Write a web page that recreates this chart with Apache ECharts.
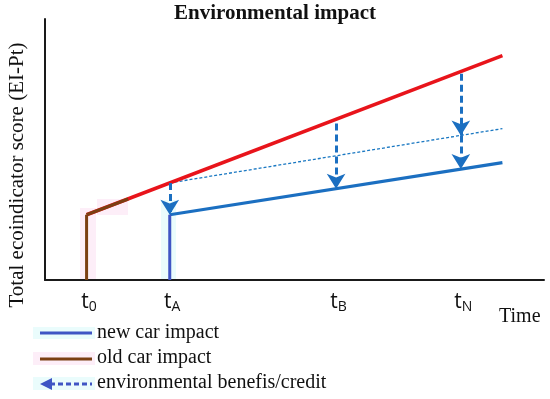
<!DOCTYPE html>
<html>
<head>
<meta charset="utf-8">
<script src="https://cdn.jsdelivr.net/npm/echarts@6/dist/echarts.min.js"></script>
<style>html,body{margin:0;padding:0;background:#fff}#c{width:550px;height:399px}</style>
</head>
<body>
<div id="c"></div>
<script>
// Time positions of the labelled ticks and their subscripts
var tickPositions = [1, 3, 7, 10];
var tickSubs = ['0', 'A', 'B', 'N'];
// Old car impact (t0 start, then rising)
var oldCarVertical = [[1, 0], [1, 2.5]];
var oldCarLine = [[1, 2.5], [2, 3.1]];
// Continued old car impact (red)
var oldCarTrend = [[1, 2.5], [11, 8.6]];
// Reference (thin dotted) line from tA
var dottedLine = [[3, 3.72], [11, 5.8]];
// New car impact
var newCarVertical = [[3, 0], [3, 2.5]];
var newCarLine = [[3, 2.5], [11, 4.5]];
// Environmental benefit arrows: [x, from, to]
var benefitArrows = [[3, 3.72, 2.5], [7, 6.0, 3.5], [10, 7.9, 5.54], [10, 5.54, 4.25]];

var serif = '"Liberation Serif","DejaVu Serif",serif';
var sans = '"Open Sans","Liberation Sans",sans-serif';

var chart = echarts.init(document.getElementById('c'), null, {renderer: 'canvas'});
var arrowData = benefitArrows.map(function (a) {
  return [{coord: [a[0], a[1]]}, {coord: [a[0], a[2]]}];
});
chart.setOption({
  animation: false,
  backgroundColor: '#fff',
  grid: {left: 45, right: 6, top: 19, bottom: 119},
  xAxis: {
    type: 'value', min: 0, max: 12,
    axisLine: {show: true, lineStyle: {color: '#1a1a1a', width: 2}},
    axisTick: {show: false},
    splitLine: {show: false},
    axisLabel: {
      customValues: tickPositions,
      margin: 11,
      formatter: function (v) {
        var i = tickPositions.indexOf(v);
        return '{t|t}{s|' + tickSubs[i] + '}';
      },
      rich: {
        t: {fontFamily: sans, fontSize: 21, color: '#111', padding: [0, 0, 0, 5]},
        s: {fontFamily: sans, fontSize: 14, color: '#111', verticalAlign: 'bottom', padding: [9, 0, 0, 0]}
      }
    }
  },
  yAxis: {
    type: 'value', min: 0, max: 10,
    axisLine: {show: true, lineStyle: {color: '#1a1a1a', width: 2}},
    axisTick: {show: false},
    axisLabel: {show: false},
    splitLine: {show: false}
  },
  graphic: [
    {type: 'rect', shape: {x: 80, y: 208, width: 16, height: 71}, style: {fill: '#fdeef8'}, z: -10},
    {type: 'rect', shape: {x: 97, y: 199, width: 31, height: 16}, style: {fill: '#fdeef8'}, z: -10},
    {type: 'rect', shape: {x: 161, y: 200, width: 15, height: 79}, style: {fill: '#eafcfc'}, z: -10},
    {type: 'text', left: 'center', top: 3, style: {text: 'Environmental impact', font: 'bold 21px ' + serif, fill: '#111'}},
    {type: 'text', x: 17, y: 175, rotation: Math.PI / 2, style: {text: 'Total ecoindicator score (EI-Pt)', font: '21px ' + serif, fill: '#111', align: 'center', verticalAlign: 'middle'}},
    {type: 'text', x: 499, y: 307, style: {text: 'Time', font: '20px ' + serif, fill: '#111'}},
    {type: 'rect', shape: {x: 33, y: 327, width: 62, height: 12}, style: {fill: '#eafcfc'}, z: -10},
    {type: 'rect', shape: {x: 33, y: 352, width: 62, height: 13}, style: {fill: '#fdeef8'}, z: -10},
    {type: 'rect', shape: {x: 33, y: 377, width: 62, height: 13}, style: {fill: '#eafcfc'}, z: -10},
    {type: 'line', shape: {x1: 40, y1: 333, x2: 92, y2: 333}, style: {stroke: '#3f55c4', lineWidth: 3}},
    {type: 'line', shape: {x1: 40, y1: 359, x2: 92, y2: 359}, style: {stroke: '#7b3f12', lineWidth: 3}},
    {type: 'line', shape: {x1: 50, y1: 384, x2: 92, y2: 384}, style: {stroke: '#3f55c4', lineWidth: 3, lineDash: [5, 3]}},
    {type: 'polygon', shape: {points: [[40, 384], [52, 378], [52, 390]]}, style: {fill: '#3f55c4'}},
    {type: 'text', x: 97, y: 333, style: {text: 'new car impact', font: '20px ' + serif, fill: '#111', verticalAlign: 'middle'}},
    {type: 'text', x: 97, y: 358, style: {text: 'old car impact', font: '20px ' + serif, fill: '#111', verticalAlign: 'middle'}},
    {type: 'text', x: 97, y: 383, style: {text: 'environmental benefis/credit', font: '20px ' + serif, fill: '#111', verticalAlign: 'middle'}}
  ],
  series: [
    {type: 'line', data: oldCarTrend, symbol: 'none', lineStyle: {color: '#e8141b', width: 3.5}, z: 3},
    {type: 'line', data: dottedLine, symbol: 'none', lineStyle: {color: '#1a78c2', width: 1.3, type: [3, 2]}, z: 2},
    {type: 'line', data: newCarLine, symbol: 'none', lineStyle: {color: '#1b6fc1', width: 3.2}, z: 3},
    {type: 'line', data: newCarVertical, symbol: 'none', lineStyle: {color: '#3f55c4', width: 3}, z: 4},
    {type: 'line', data: oldCarVertical, symbol: 'none', lineStyle: {color: '#7b3f12', width: 3}, z: 4},
    {type: 'line', data: oldCarLine, symbol: 'none', lineStyle: {color: '#7b3f12', width: 3.2}, z: 5},
    {type: 'line', data: [], symbol: 'none',
      markLine: {
        silent: true, animation: false,
        symbol: ['none', 'arrow'], symbolSize: [14, 15],
        label: {show: false},
        lineStyle: {color: '#1b6fc1', width: 3, type: [7, 4]},
        emphasis: {disabled: true},
        data: arrowData
      }, z: 6}
  ]
});
</script>
</body>
</html>
